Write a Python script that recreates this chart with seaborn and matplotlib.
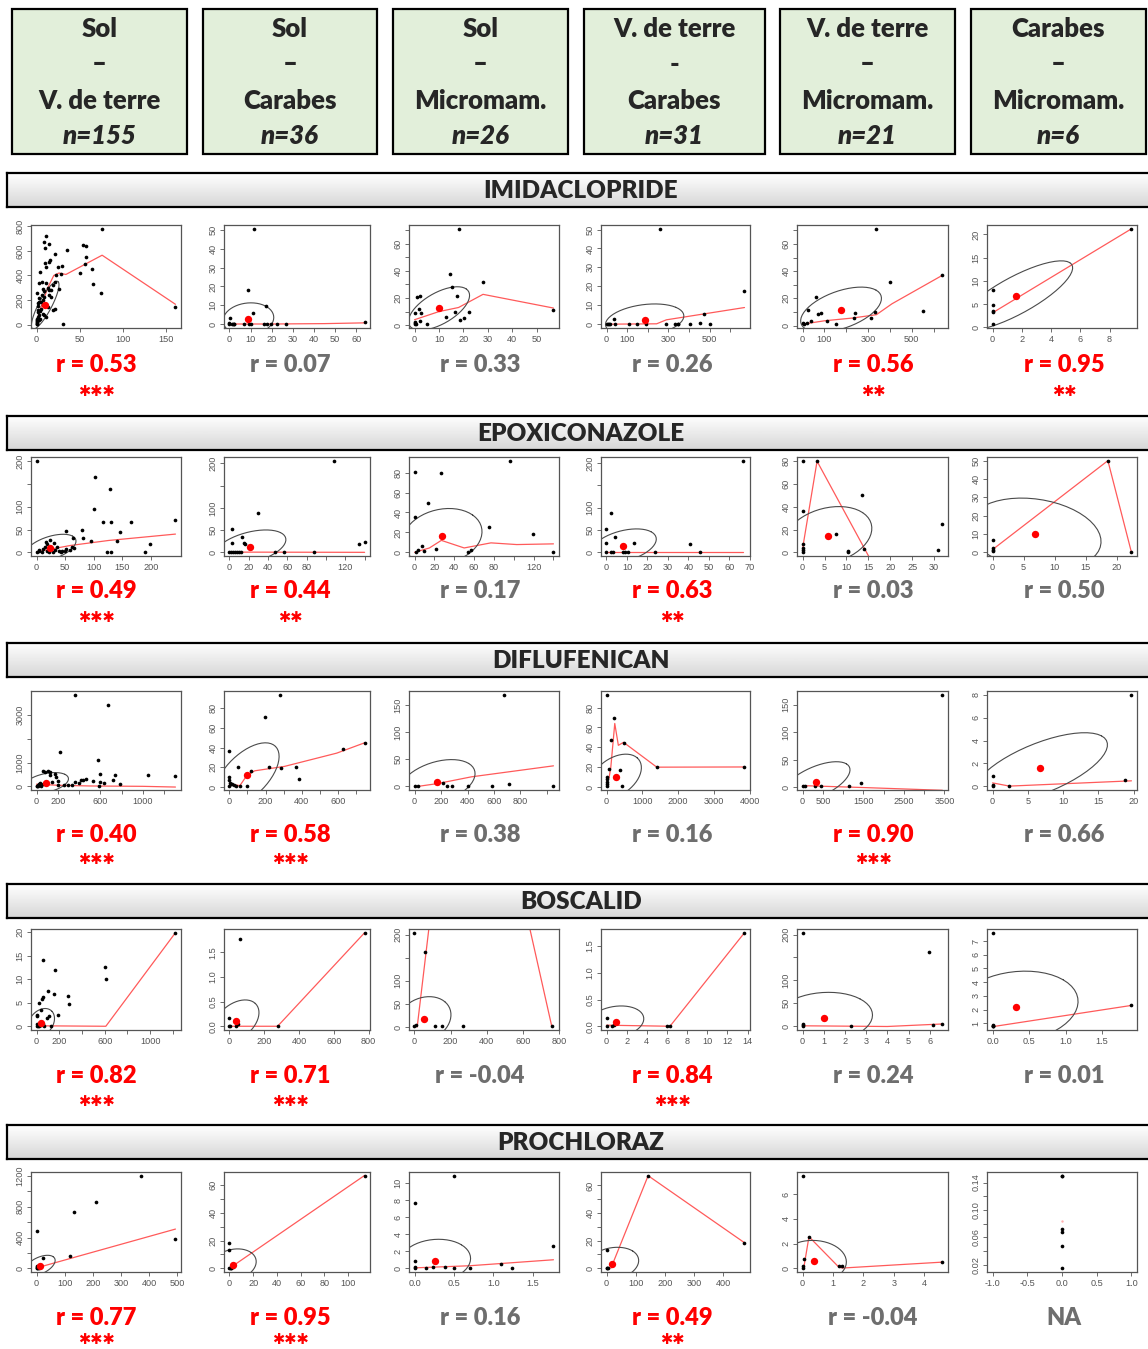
import numpy as np
import matplotlib
matplotlib.use("Agg")
import matplotlib.pyplot as plt
import seaborn as sns
from matplotlib.patches import Rectangle

# column headers (pairs of compartments) and sample sizes
PAIRS = [("Sol", "–", "V. de terre"), ("Sol", "–", "Carabes"), ("Sol", "–", "Micromam."),
         ("V. de terre", "-", "Carabes"), ("V. de terre", "–", "Micromam."), ("Carabes", "–", "Micromam.")]
N_OBS = ["n=155", "n=36", "n=26", "n=31", "n=21", "n=6"]
COMPOUNDS = ["IMIDACLOPRIDE", "EPOXICONAZOLE", "DIFLUFENICAN", "BOSCALID", "PROCHLORAZ"]

R_TEXT = [["0.53", "0.07", "0.33", "0.26", "0.56", "0.95"],
          ["0.49", "0.44", "0.17", "0.63", "0.03", "0.50"],
          ["0.40", "0.58", "0.38", "0.16", "0.90", "0.66"],
          ["0.82", "0.71", "-0.04", "0.84", "0.24", "0.01"],
          ["0.77", "0.95", "0.16", "0.49", "-0.04", None]]
STARS = [[3, 0, 0, 0, 2, 2],
         [3, 2, 0, 2, 0, 0],
         [3, 3, 0, 0, 3, 0],
         [3, 3, 0, 3, 0, 0],
         [3, 3, 0, 2, 0, 0]]

# ---------------- IMIDACLOPRIDE ----------------
IMI_PTS = [
    [(75.8, 780), (11, 723), (8.3, 671), (14, 655), (9.5, 625), (35, 608), (54, 650), (57, 636), (57, 554),
     (56, 491), (50, 423), (64, 450), (65, 327), (75, 256), (161, 142), (31, 3), (21, 573), (16, 527),
     (15, 513), (10, 500), (11, 472), (4.4, 426), (25, 472), (29, 480), (28, 409), (23, 401), (21, 347),
     (19, 319), (26, 287), (17, 281), (13, 300), (9, 273), (7, 289), (2.4, 341), (6, 349), (11, 336),
     (0.4, 254), (3.2, 213), (9, 221), (5, 186), (1.2, 172), (7, 158), (17, 226), (19, 117), (21, 123),
     (15, 240), (1.2, 117), (2.4, 76), (4.4, 49), (0.4, 35), (1, 14), (11, 63), (7, 90), (13, 145), (0, 8),
     (0, 49), (2, 104), (5, 123), (9, 76), (15, 281), (0.5, 20), (1.5, 60), (2, 150), (3, 180), (0.2, 5),
     (0.8, 30), (6, 240), (8, 200), (4, 110), (3, 40)],
    [(11.8, 50.5), (9, 17.9), (17.4, 9.5), (11, 5.9), (0.5, 3.4), (0, 0.5), (1, 0.3), (2, 0.3), (2.4, 0.3),
     (7, 0.3), (9.5, 0.3), (10.3, 0.3), (16.3, 0.3), (18, 0.3), (19.7, 0.3), (22.6, 0.3), (27, 0.3),
     (64, 0.9), (0, 0), (1.5, 0)],
    [(18, 71), (14.5, 37.8), (15.2, 28.4), (27.8, 31.9), (17.3, 21.5), (1.1, 21), (2.2, 21.2), (1.7, 11.6),
     (2.5, 8.6), (0, 9.1), (0, 2), (0.4, 0.7), (2.2, 3.2), (5, 1.2), (12.9, 5.7), (16.4, 9.6), (18.5, 3.9),
     (20.1, 5.2), (22.4, 9.6), (56.8, 10.9), (0, 1), (0.3, 1.5)],
    [(259, 50.4), (669, 17.4), (472, 5.5), (34, 3), (0, 0), (5, 0), (10, 0), (15, 0), (40, 0), (111, 0),
     (149, 0), (190, 0), (289, 0), (330, 0), (349, 0), (407, 0), (451, 0.5), (500, 0), (345, 0.3)],
    [(338, 71.2), (402, 32), (640, 37.5), (549, 10.9), (60, 21), (24, 11.7), (84, 9.2), (71, 8.4), (37, 3.5),
     (113, 3.5), (151, 1.2), (240, 9.2), (235, 5.2), (314, 5.2), (330, 9.7), (0, 1.7), (5, 1), (20, 2.2)],
    [(9.5, 21.2), (0, 8), (0, 4.7), (0, 3.5), (0, 3.2), (0, 0.65)],
]
IMI_LOW = [
    [(0, 10), (3, 100), (8, 200), (13, 300), (20, 400), (26, 420), (34, 408), (76, 565), (161, 165)],
    [(0, 0.1), (20, 0.1), (45, 0.3), (64, 0.7)],
    [(0, 4), (10, 10), (18, 13), (28, 22.7), (56.8, 12.6)],
    [(0, 0), (243, 0.2), (290, 2.3), (669, 8.8)],
    [(0, 1), (100, 3.5), (227, 5.5), (338, 8), (409, 16), (640, 37)],
    [(0, 3.1), (9.5, 21.2)],
]
IMI_MEAN = [(10, 158), (9, 2.7), (10, 12.3), (185, 2.1), (176, 11.7), (1.58, 6.8)]
IMI_SD = [(16, 195), (12, 8.6), (12.5, 16), (190, 8.6), (185, 16.6), (3.9, 7.5)]
IMI_ER = [0.85, 0.1, 0.6, 0.26, 0.5, 0.8]
IMI_XT = [["0", "50", "100", "150"], ["0", "10", "20", "30", "40", "50", "60"],
          ["0", "10", "20", "30", "40", "50"], ["0", "100", "~200", "300", "~400", "500", "~600"],
          ["0", "100", "~200", "300", "~400", "500", "~600"], ["0", "2", "4", "6", "8"]]
IMI_YT = [["0", "200", "400", "600", "800"], ["0", "10", "20", "30", "40", "50"],
          ["0", "~10", "20", "~30", "40", "~50", "60", "~70"], ["0", "10", "20", "30", "40", "50"],
          ["0", "~10", "20", "~30", "40", "~50", "60", "~70"], ["0", "5", "10", "15", "20"]]

# ---------------- EPOXICONAZOLE ----------------
EPO_PTS = [
    [(0, 201), (102, 165), (128, 139), (100, 94), (117, 67), (131, 67), (165, 66), (243, 70), (51, 46),
     (80, 49), (82, 32), (63, 32), (96, 24), (146, 44), (140, 24), (199, 18), (123, 0), (130, 0), (190, 0),
     (23, 26), (19, 18), (5, 5), (12, 7), (19, 4), (25, 10), (32, 5), (39, 4), (45, 4), (52, 7), (62, 11),
     (9, 1.5), (15, 12.5), (22, 1.5), (29, 0), (35, 11), (42, 0), (49, 2), (59, 5), (66, 9.6), (0, 0),
     (4, 3.7), (30, 20), (16, 22)],
    [(108, 206), (30, 88), (2.3, 52), (3, 22), (13, 34), (14.6, 20), (16.5, 19), (134, 19), (140, 23),
     (0, 0), (2, 0), (4, 0), (6, 0), (8, 0), (10, 0), (12, 0), (47, 0), (57, 0), (88, 0)],
    [(96, 92), (0, 80.6), (27, 79.6), (13.4, 50), (0, 35), (75, 25), (119, 18), (140, 0), (27, 15.3),
     (22, 3.4), (7.7, 6.8), (9.6, 1.7), (3.8, 2), (1, 0.3), (54, 0.3), (57, 2)],
    [(66.7, 205), (2.4, 89), (0, 52), (4.2, 34), (0, 21), (13.6, 20), (40.9, 18), (45.7, 0), (23.9, 0),
     (0, 0), (2, 0), (3, 0), (8, 0), (9, 0), (10.5, 0)],
    [(0, 80.5), (3.3, 80), (13.6, 50), (0, 36), (7.6, 16), (31.9, 25), (31, 1.8), (14.1, 3), (10.3, 0.9),
     (10.3, 0), (0, 7.7), (0, 3.8), (0, 1.8), (0, 0)],
    [(0, 6.9), (0, 2.4), (0, 1.5), (0, 0.5), (18.6, 50), (22.4, 0)],
]
EPO_LOW = [
    [(0, 1), (25, 7), (59, 15), (126, 26), (243, 40)],
    [(0, 0.5), (140, 0)],
    [(0, 0), (15, 4.4), (27, 12), (50, 4.4), (77, 9.5), (103, 7.8), (140, 8.5)],
    [(0, 0.3), (66.7, 0.3)],
    [(0, 2), (0.2, 8), (3.3, 80), (16, -10)],
    [(0, 1.5), (18.6, 50), (22.4, 0)],
]
EPO_MEAN = [(24, 9.6), (21.5, 11.3), (28, 16), (8.3, 14.4), (5.8, 14.7), (6.8, 9.8)]
EPO_SD = [(45, 30), (37, 39), (40, 28), (16, 38), (10, 25.5), (10.7, 19.8)]
EPO_ER = [0.5, 0.44, 0.17, 0.4, 0.25, -0.2]
EPO_XT = [["0", "50", "100", "150", "200"], ["0", "20", "40", "60", "80", "~100", "120", "~140"],
          ["0", "20", "40", "60", "80", "~100", "120", "~140"], ["0", "10", "20", "30", "40", "50", "60", "70"],
          ["0", "5", "10", "15", "20", "25", "30"], ["0", "5", "10", "15", "20"]]
EPO_YT = [["0", "50", "100", "~150", "200"], ["0", "50", "100", "~150", "200"],
          ["0", "20", "40", "60", "80"], ["0", "50", "100", "~150", "200"],
          ["0", "20", "40", "60", "80"], ["0", "10", "20", "30", "40", "50"]]

# ---------------- DIFLUFENICAN ----------------
DIF_PTS = [
    [(365, 3850), (673, 3427), (220, 1425), (582, 1100), (1052, 465), (1306, 437), (58, 650), (76, 606),
     (105, 650), (130, 606), (174, 536), (185, 395), (130, 494), (593, 536), (738, 494), (716, 254),
     (600, 183), (535, 212), (401, 141), (420, 254), (438, 282), (781, 85), (637, 141), (586, 0), (293, 70),
     (329, 70), (257, 70), (203, 70), (148, 183), (22, 85), (4, 28), (40, 28), (58, 85), (87, 113),
     (203, 212), (365, 183), (463, 310), (0, 0), (10, 50), (30, 120), (15, 10)],
    [(280, 94), (198, 71.7), (0, 36.6), (47, 20.7), (219, 20.7), (367, 20.7), (285, 19.3), (384, 8.6),
     (631, 38.3), (748, 45.2), (120, 16.5), (0, 9.7), (0, 6.9), (4, 4.5), (8, 3.4), (16, 2.8), (27, 2),
     (37, 1.4), (0, 0.7), (58, 1.4), (99, 0.7)],
    [(677, 170), (0, 0), (23, 0), (214, 7), (243, 1.3), (280, 1.3), (406, 1.3), (586, 1.3), (714, 5),
     (1049, 0)],
    [(21, 93), (211, 70), (127, 47), (475, 44.6), (369, 16.7), (74, 18), (422, 0.7), (0, 10.5), (0, 7.7),
     (0, 5.2), (21, 2.8), (0, 1.4), (1403, 19.9), (3850, 20.2)],
    [(3450, 168), (0, 1.8), (50, 1.8), (300, 1.8), (450, 1.2), (1150, 1.8), (1430, 8)],
    [(19.7, 8), (0, 0.87), (0, 0.09), (0, 0), (2.4, 0), (18.8, 0.52)],
]
DIF_LOW = [
    [(0, 90), (200, 45), (500, 15), (1000, 0), (1306, -30)],
    [(0, 3), (58, 1.4), (95, 11.4), (140, 16.5), (305, 21), (594, 34.5), (748, 45)],
    [(0, -1), (171, 5), (429, 17.6), (1049, 38)],
    [(0, 6), (70, 9), (120, 20), (230, 64), (330, 42), (475, 45), (1403, 20), (3850, 20.2)],
    [(0, 2.5), (1500, -1), (3450, -6)],
    [(0, 0.3), (2.4, 0.02), (19.7, 0.48)],
]
DIF_MEAN = [(87, 141), (95, 12), (171, 7.6), (253, 10.5), (330, 9), (6.8, 1.58)]
DIF_SD = [(213, 437), (180, 33), (286, 42), (720, 22.6), (840, 37), (9.5, 3.1)]
DIF_ER = [0.4, 0.58, 0.38, 0.4, 0.6, 0.66]
DIF_XT = [["0", "200", "~400", "600", "~800", "1000", "~1200"],
          ["0", "~100", "200", "~300", "400", "~500", "600", "~700"],
          ["0", "200", "400", "600", "800", "~1000"], ["0", "1000", "2000", "3000", "4000"],
          ["0", "500", "~1000", "1500", "~2000", "2500", "~3000", "3500"], ["0", "5", "10", "15", "20"]]
DIF_YT = [["0", "1000", "~2000", "3000"], ["0", "20", "40", "60", "80"], ["0", "50", "100", "150"],
          ["0", "20", "40", "60", "80"], ["0", "50", "100", "150"], ["0", "2", "4", "6", "8"]]

# ---------------- BOSCALID ----------------
BOS_PTS = [
    [(1223, 19.9), (602, 12.6), (612, 10), (57, 14), (165, 12), (101, 7.5), (158, 6.9), (276, 6.4),
     (282, 4.7), (57, 6.2), (47, 5.8), (24, 4.9), (40, 3.5), (0, 2.5), (7, 2.2), (192, 2.3), (91, 1.8),
     (108, 2.2), (124, 0.15), (0, 0.5), (13, 0.15), (40, 0.36), (67, 0.15), (24, 0), (0, 0), (57, 0.5)],
    [(777, 1.9), (60, 1.77), (0, 0.16), (0, 0), (4, 0), (38, 0), (47, 0.056), (277, 0)],
    [(0, 204), (58, 162), (0, 3), (10, 5), (114, 1.5), (152, 3), (270, 1.5), (759, 3)],
    [(13.7, 1.75), (0, 0.16), (0, 0), (0.57, 0), (0.76, 0.02), (6, 0), (6.3, 0)],
    [(0, 204), (5.95, 163), (0, 4.4), (0, 2.2), (0, 0), (2.27, 0.7), (6.16, 2.2), (6.6, 4.4)],
    [(0, 7.6), (0, 0.85), (0, 0.8), (0, 0.82), (0, 0.78), (1.9, 2.3)],
]
BOS_LOW = [
    [(0, 0.1), (610, 0), (1223, 19.9)],
    [(0, 0), (277, 0), (777, 1.9)],
    [(15, 0), (100, 280), (600, 280), (759, 3)],
    [(0, 0.02), (6.3, 0), (13.7, 1.75)],
    [(0, 1), (4, -0.5), (6.6, 5)],
    [(0, 0.75), (1.9, 2.3)],
]
BOS_MEAN = [(40, 0.73), (38, 0.105), (52, 16.6), (0.9, 0.08), (1.0, 19), (0.32, 2.2)]
BOS_SD = [(118, 3.05), (132, 0.43), (150, 49), (2.8, 0.3), (2.3, 55), (0.85, 2.6)]
BOS_ER = [0.3, 0.4, 0.2, 0.2, 0.1, 0.15]
BOS_XT = [["0", "200", "~400", "600", "~800", "1000", "~1200"], ["0", "200", "400", "600", "800"],
          ["0", "200", "400", "600", "800"], ["0", "2", "4", "6", "8", "10", "12", "14"],
          ["0", "1", "2", "3", "4", "5", "6"], ["0.0", "0.5", "1.0", "1.5"]]
BOS_YT = [["0", "5", "10", "15", "20"], ["0.0", "0.5", "1.0", "1.5"], ["0", "50", "100", "~150", "200"],
          ["0.0", "0.5", "1.0", "1.5"], ["0", "50", "100", "~150", "200"],
          ["1", "2", "3", "4", "5", "6", "7"]]

# ---------------- PROCHLORAZ ----------------
PRO_PTS = [
    [(371, 1204), (211, 867), (133, 738), (3, 489), (493, 378), (117, 156), (23, 133), (0, 27), (5, 13),
     (12, 36), (0, 0), (2, 5), (8, 10), (1, 20), (4, 0)],
    [(114, 66.8), (0, 18.4), (0, 13.3), (0, 0.5), (1, 0.5), (3, 1), (1.6, 0), (0.5, 0.2)],
    [(0.5, 10.85), (0, 7.7), (1.76, 2.6), (0, 0.8), (0, 0.2), (0, 0), (0.15, 0), (0.24, 0.1), (0.38, 0.15),
     (0.5, 0), (0.7, 0.08), (1.1, 0.5), (1.24, 0)],
    [(143, 67), (474, 18.5), (0, 13.6), (0, 0.5), (5, 0), (1, 0.2)],
    [(0, 7.5), (0.21, 2.56), (0.03, 0.77), (0, 0.22), (0, 0), (1.19, 0.17), (1.31, 0.17), (4.6, 0.55)],
    [(0, 0.15), (0, 0.149), (0, 0.0725), (0, 0.0675), (0, 0.0475), (0, 0.015)],
]
PRO_LOW = [
    [(0, 5), (493, 510)],
    [(0, 0), (114, 67)],
    [(0, 0.05), (0.7, 0.3), (1.76, 1.0)],
    [(15, 0), (143, 67), (474, 18.5)],
    [(0.05, 0.2), (0.21, 2.56), (1.19, 0.1), (1.31, 0.02), (4.6, 0.5)],
    None,
]
PRO_MEAN = [(12, 36), (3.1, 2.5), (0.26, 0.9), (19.5, 3.2), (0.37, 0.58), (0, 0.0835)]
PRO_SD = [(54, 133), (19.5, 11.5), (0.45, 2.5), (91, 12), (1.07, 1.68), None]
PRO_ER = [0.5, 0.2, 0.1, 0.2, -0.04, None]
PRO_XT = [["0", "100", "200", "300", "400", "500"], ["0", "20", "40", "60", "80", "100"],
          ["0.0", "0.5", "1.0", "1.5"], ["0", "100", "200", "300", "400"], ["0", "1", "2", "3", "4"],
          ["-1.0", "-0.5", "0.0", "0.5", "1.0"]]
PRO_YT = [["0", "~200", "400", "~600", "800", "~1000", "1200"], ["0", "~10", "20", "~30", "40", "~50", "60"],
          ["0", "2", "4", "6", "8", "10"], ["0", "~10", "20", "~30", "40", "~50", "60"],
          ["0", "2", "4", "6"], ["0.02", "~0.04", "0.06", "~0.08", "0.10", "~0.12", "0.14"]]

ROWS = [
    (IMI_PTS, IMI_LOW, IMI_MEAN, IMI_SD, IMI_ER, IMI_XT, IMI_YT),
    (EPO_PTS, EPO_LOW, EPO_MEAN, EPO_SD, EPO_ER, EPO_XT, EPO_YT),
    (DIF_PTS, DIF_LOW, DIF_MEAN, DIF_SD, DIF_ER, DIF_XT, DIF_YT),
    (BOS_PTS, BOS_LOW, BOS_MEAN, BOS_SD, BOS_ER, BOS_XT, BOS_YT),
    (PRO_PTS, PRO_LOW, PRO_MEAN, PRO_SD, PRO_ER, PRO_XT, PRO_YT),
]

sns.set_style("white")
plt.rcParams["font.family"] = ["Lato", "DejaVu Sans"]

W, H = 1148, 1349
RED = "#ff0000"
GREY_TXT = "#6e6e6e"
FRAME = "#555555"
HEAVY = 800

fig = plt.figure(figsize=(W / 100, H / 100), dpi=100)


def px_axes(left, top, right, bottom):
    return fig.add_axes([left / W, 1 - bottom / H, (right - left) / W, (bottom - top) / H])


def r_range(v):
    # R's default axis range: data range plus 4% on each side
    lo, hi = min(v), max(v)
    if hi == lo:
        lo, hi = lo - 1, hi + 1
    pad = 0.04 * (hi - lo)
    return lo - pad, hi + pad


def ticks(spec):
    pos = [float(s.lstrip("~")) for s in spec]
    lab = ["" if s.startswith("~") else s for s in spec]
    return pos, lab


def corr_ellipse(mx, my, sx, sy, r, n=51):
    # same construction as psych::draw.ellipse (1 sd, shaped by r)
    t = np.linspace(0, 2 * np.pi, n + 1)
    th = (np.sign(r) if r != 0 else 1) / np.sqrt(2)
    a, b = np.sqrt(1 + r), np.sqrt(1 - r)
    ex = np.cos(t) * a * th - np.sin(t) * b * th
    ey = np.cos(t) * a * th + np.sin(t) * b * th
    return mx + ex * sx, my + ey * sy


def draw_panel(ax, pts, low, mean, sd, er, xt, yt):
    x = np.array([p[0] for p in pts])
    y = np.array([p[1] for p in pts])
    sns.scatterplot(x=x, y=y, ax=ax, color="black", s=7, linewidth=0, zorder=3)
    if low is not None:
        sns.lineplot(x=[p[0] for p in low], y=[p[1] for p in low], ax=ax, sort=False,
                     estimator=None, color="#ff5a5a", lw=0.9, zorder=2)
    if sd is not None:
        ex, ey = corr_ellipse(mean[0], mean[1], sd[0], sd[1], er)
        ax.plot(ex, ey, color="#4a4a4a", lw=0.8, zorder=2)
        ax.scatter([mean[0]], [mean[1]], s=28, color=RED, zorder=4, linewidths=0)
    else:
        ax.scatter([mean[0]], [mean[1]], s=3, color="#ffb0b0", zorder=4, linewidths=0)
    ax.set_xlim(*r_range(x))
    ax.set_ylim(*r_range(y))
    xp, xl = ticks(xt)
    yp, yl = ticks(yt)
    ax.set_xticks(xp)
    ax.set_xticklabels(xl)
    ax.set_yticks(yp)
    ax.set_yticklabels(yl, rotation=90, va="center")
    ax.tick_params(direction="out", length=3.2, width=0.6, color=FRAME, labelsize=6.6,
                   labelcolor="#555555", pad=1.5, bottom=True, left=True)
    for lab in ax.get_xticklabels() + ax.get_yticklabels():
        lab.set_family("Liberation Sans")
    for sp in ax.spines.values():
        sp.set_color(FRAME)
        sp.set_linewidth(0.9)
    ax.set_xlabel("")
    ax.set_ylabel("")


# header boxes
BOX_X = [(12, 187), (203, 377), (393, 568), (584, 765), (780, 955), (971, 1146)]
for (l, r), pair, n in zip(BOX_X, PAIRS, N_OBS):
    fig.add_artist(Rectangle((l / W, 1 - 154 / H), (r - l) / W, 145 / H, transform=fig.transFigure,
                             facecolor="#e2efda", edgecolor="black", lw=1.6))
    cx = (l + r) / 2 / W
    for txt, yy in zip(pair, (29, 64, 101)):
        fig.text(cx, 1 - yy / H, txt, ha="center", va="center", fontsize=18.5, fontweight=HEAVY)
    fig.text(cx, 1 - 136 / H, n, ha="center", va="center", fontsize=18.5, fontweight=HEAVY, style="italic")

# compound banners
BANNER_TOP = [173, 416, 643, 884, 1125]
grad = np.linspace(1.0, 0.84, 50).reshape(-1, 1)
for top, name in zip(BANNER_TOP, COMPOUNDS):
    bax = px_axes(7, top, 1152, top + 34)
    bax.imshow(grad, aspect="auto", cmap="gray", vmin=0, vmax=1, extent=(0, 1, 0, 1))
    bax.set_xticks([])
    bax.set_yticks([])
    for sp in bax.spines.values():
        sp.set_color("black")
        sp.set_linewidth(1.6)
    bax.text(0.501, 0.46, name, transform=bax.transAxes, ha="center", va="center",
             fontsize=17.5, fontweight=HEAVY)

# panels
COL_X = [(31, 181), (224, 370), (409, 559), (601, 750), (797, 948), (987, 1137)]
ROW_Y = [(225, 328), (457, 556), (691, 790), (929, 1030), (1172, 1272)]
TXT_X = [96, 290, 480, 672, 873, 1064]
R_Y = [365, 591, 835, 1076, 1318]
STAR_Y = [391, 617, 860, 1102, 1339]

for i, row in enumerate(ROWS):
    pts_l, low_l, mean_l, sd_l, er_l, xt_l, yt_l = row
    for j in range(6):
        ax = px_axes(COL_X[j][0], ROW_Y[i][0], COL_X[j][1], ROW_Y[i][1])
        draw_panel(ax, pts_l[j], low_l[j], mean_l[j], sd_l[j], er_l[j], xt_l[j], yt_l[j])
        n_star = STARS[i][j]
        col = RED if n_star else GREY_TXT
        label = "NA" if R_TEXT[i][j] is None else "r = " + R_TEXT[i][j]
        fig.text(TXT_X[j] / W, 1 - R_Y[i] / H, label, ha="center", va="center",
                 fontsize=17, fontweight=HEAVY, color=col)
        if n_star:
            fig.text(TXT_X[j] / W, 1 - STAR_Y[i] / H, "✱" * n_star, ha="center", va="center",
                     fontsize=10.5, color=RED, family="DejaVu Sans")

fig.savefig("out.png", dpi=100)
